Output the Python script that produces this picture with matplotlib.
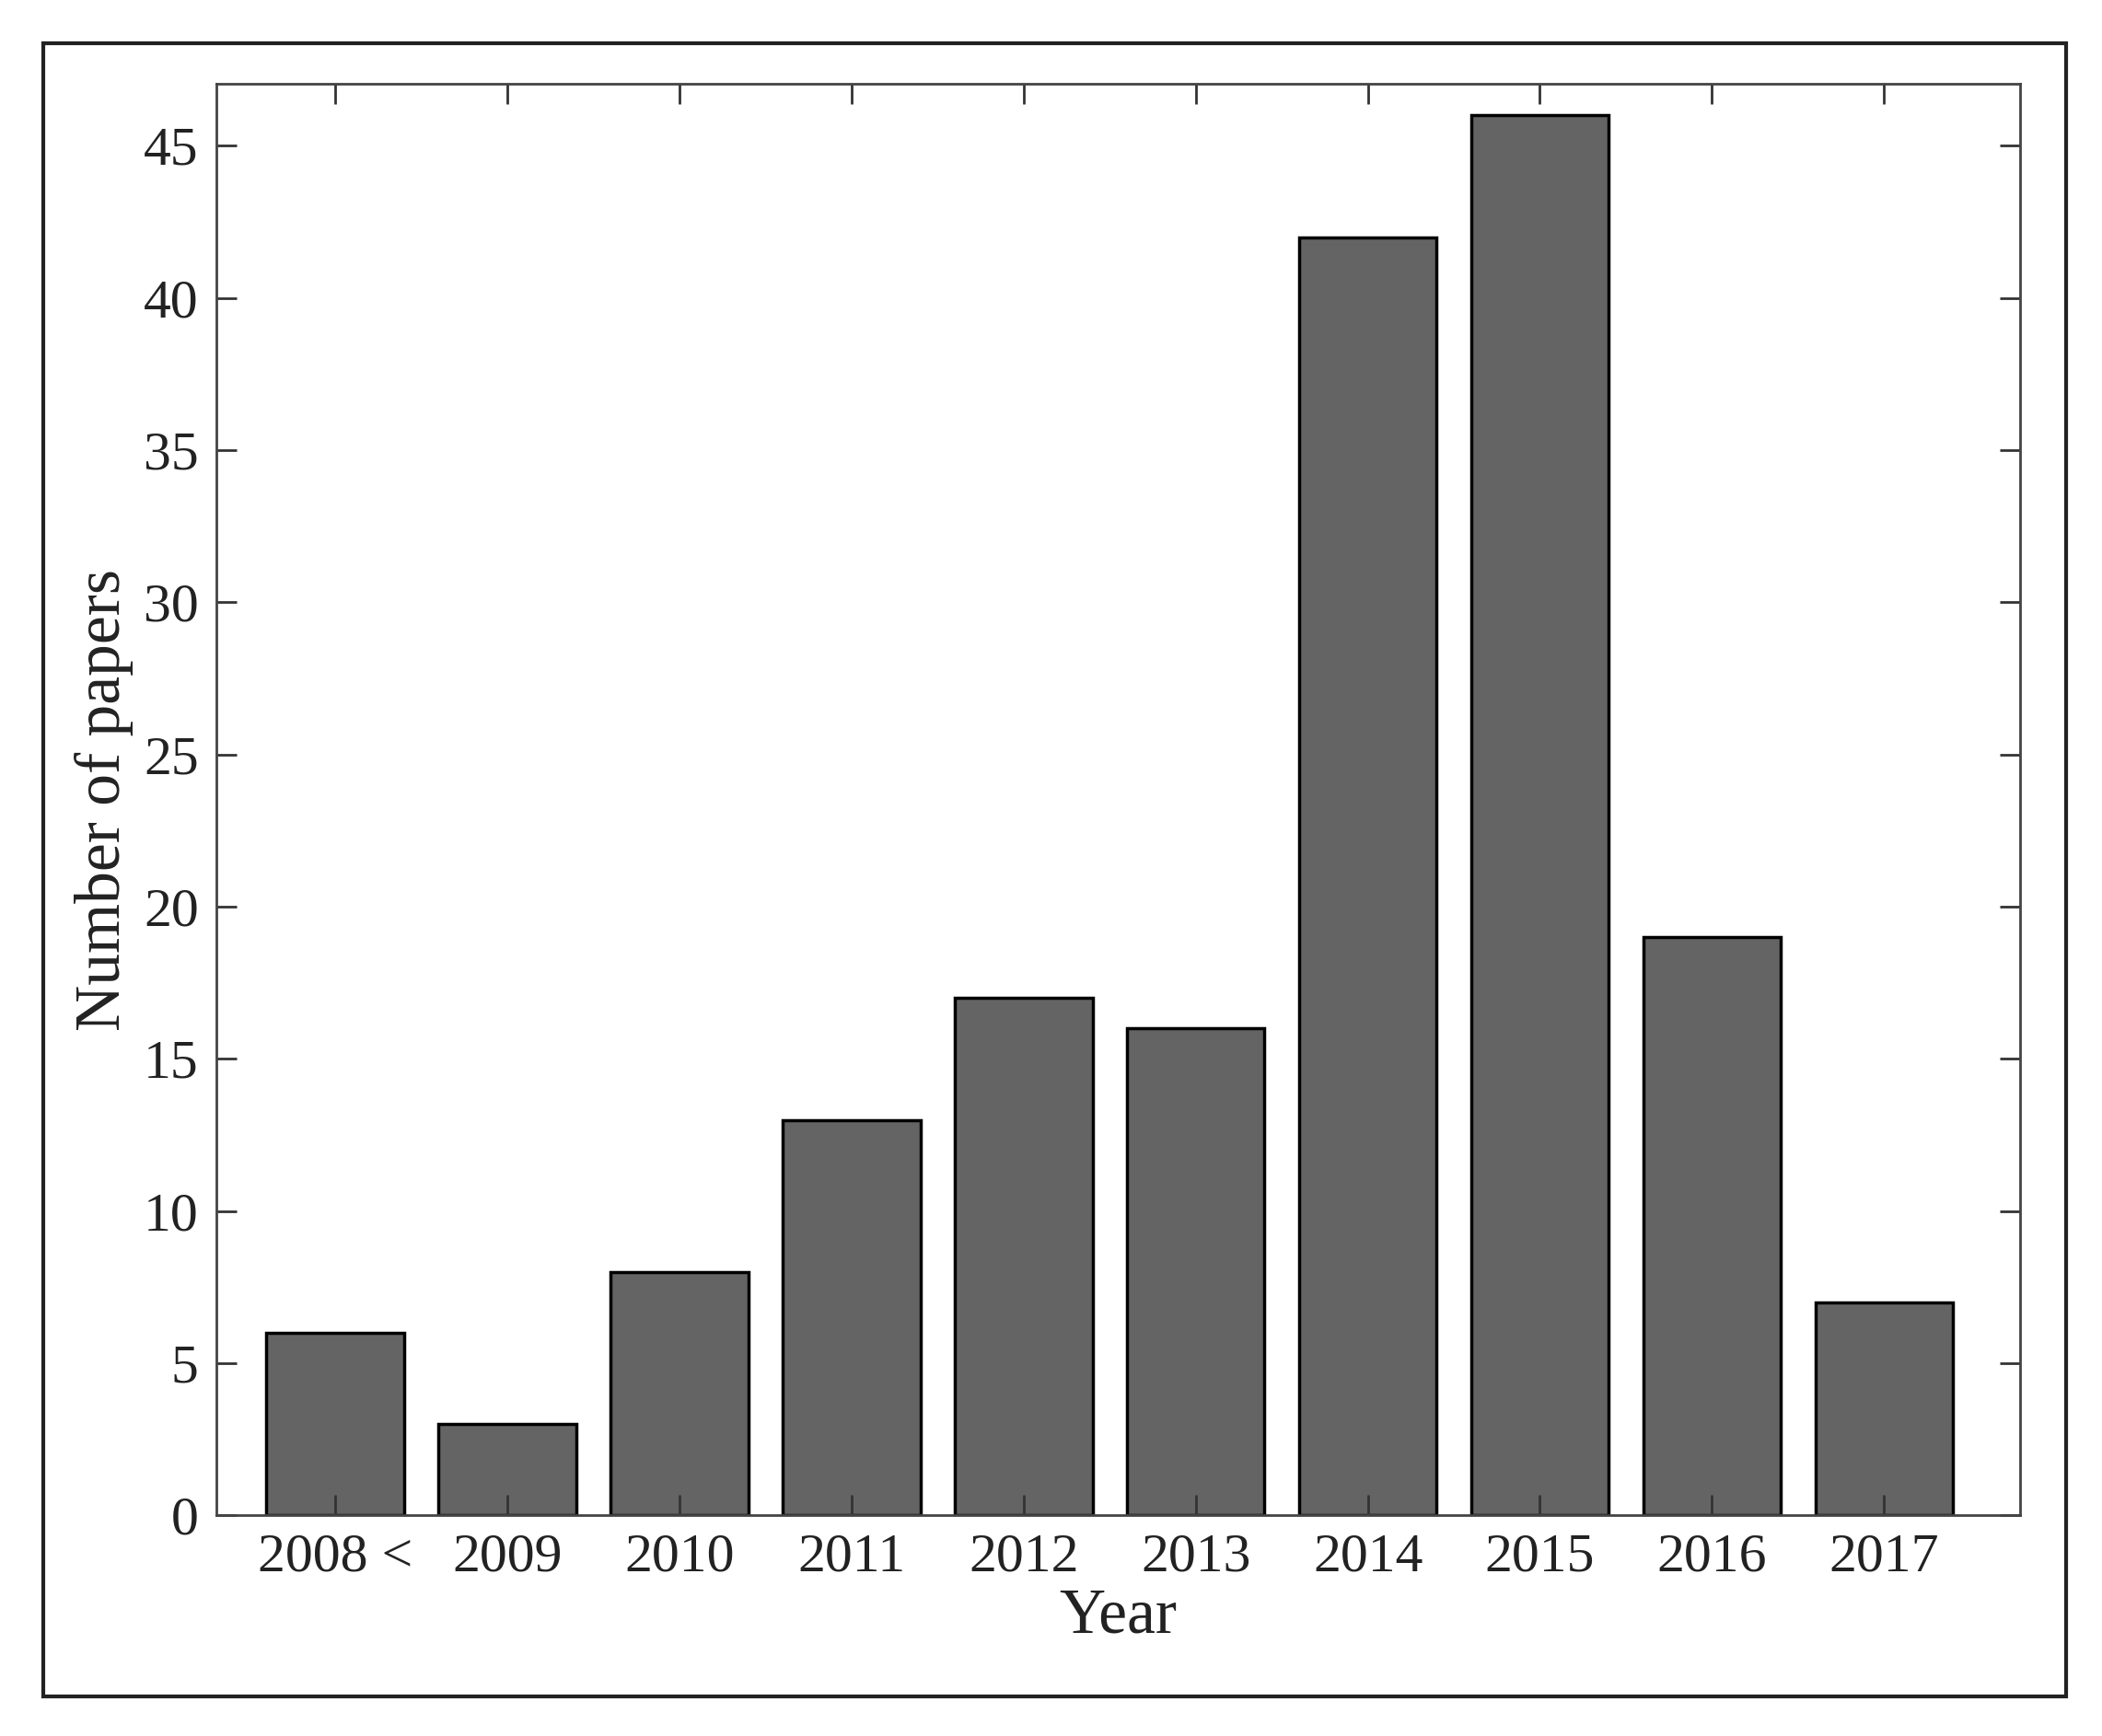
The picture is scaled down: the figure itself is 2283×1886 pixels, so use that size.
"""Number of papers per year bar chart"""

from matplotlib import pyplot as plt
from matplotlib.patches import Rectangle

years = ["2008 <", "2009", "2010", "2011", "2012", "2013", "2014", "2015", "2016", "2017"]
papers = [6, 3, 8, 13, 17, 16, 42, 46, 19, 7]

plt.rcParams["font.family"] = ["Liberation Serif", "DejaVu Serif"]

fig = plt.figure(figsize=(22.83, 18.86), dpi=100)
ax = fig.add_axes([0.103, 0.127, 0.858, 0.825])

pos = list(range(len(years)))
ax.bar(pos, papers, width=0.8, color="#646464", edgecolor="black", linewidth=2.5)

ax.set_xlim(-0.69, 9.79)
ax.set_ylim(0, 47.05)
ax.set_xticks(pos)
ax.set_xticklabels(years)
ax.set_yticks(range(0, 46, 5))
ax.tick_params(axis="both", direction="in", length=16, width=2, labelsize=43,
               top=True, right=True, colors="#333333", pad=14)
ax.tick_params(axis="both", labelcolor="#222222")
for s in ax.spines.values():
    s.set_linewidth(2)
    s.set_color("#444444")

ax.set_xlabel("Year", fontsize=50, color="#222222", labelpad=4)
ax.set_ylabel("Number of papers", fontsize=50, color="#222222", labelpad=8)

# outer frame around the whole figure
fig.patches.append(Rectangle((0.0204, 0.023), 0.9626, 0.952, transform=fig.transFigure,
                             fill=False, edgecolor="#222222", linewidth=3))

fig.savefig("out.png", dpi=100)
